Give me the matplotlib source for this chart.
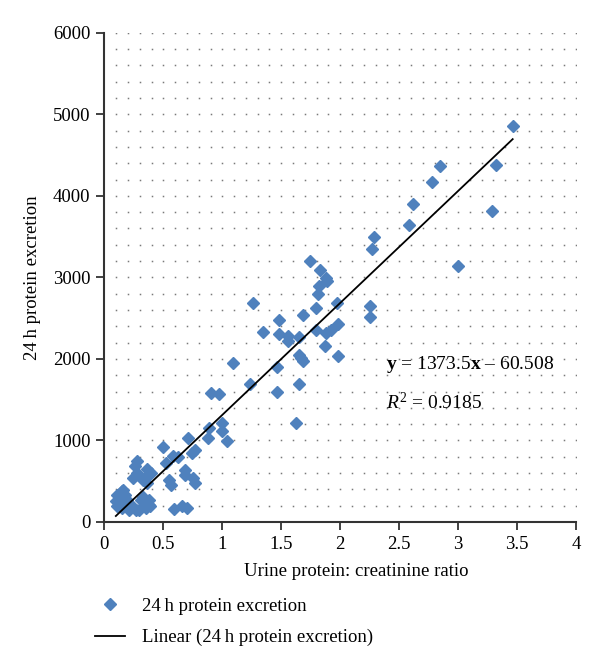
import numpy as np
import matplotlib
matplotlib.use("Agg")
import matplotlib.pyplot as plt

plt.rcParams['font.family'] = ['Liberation Serif', 'DejaVu Serif']
plt.rcParams['mathtext.fontset'] = 'custom'
plt.rcParams['mathtext.rm'] = 'Liberation Serif'
plt.rcParams['mathtext.it'] = 'Liberation Serif:italic'
plt.rcParams['mathtext.bf'] = 'Liberation Serif:bold'

# Urine protein:creatinine ratio vs 24 h protein excretion
upcr = [0.097, 0.11, 0.11, 0.152, 0.152, 0.173, 0.19, 0.209, 0.237, 0.266,
        0.294, 0.308, 0.33, 0.35, 0.378, 0.378, 0.387, 0.274, 0.257, 0.364,
        0.279, 0.393, 0.359, 0.33, 0.364, 0.24, 0.16, 0.13, 0.2,
        0.5, 0.584, 0.627, 0.522, 0.548, 0.567, 0.59, 0.655, 0.698, 0.683,
        0.683, 0.754, 0.768, 0.711, 0.768, 0.74, 0.889, 0.88, 0.994, 0.994,
        1.042, 0.901, 0.974, 1.087, 1.234, 1.262, 1.341, 1.46, 1.468, 1.482,
        1.482, 1.558, 1.558, 1.629, 1.649, 1.649, 1.671, 1.685, 1.651, 1.685,
        1.742, 1.793, 1.793, 1.81, 1.82, 1.832, 1.883, 1.888, 1.883, 1.925,
        1.875, 1.973, 1.981, 1.981, 2.256, 2.256, 2.27, 2.284, 2.58, 2.62,
        2.78, 2.85, 3.0, 3.285, 3.32, 3.463]
excretion = [253, 335, 191, 376, 172, 335, 274, 151, 191, 151,
             151, 274, 307, 172, 274, 212, 191, 744, 682, 650,
             601, 601, 560, 519, 478, 545, 396, 230, 210,
             920, 805, 797, 724, 519, 458, 160, 191, 172, 642,
             580, 540, 478, 1031, 887, 847, 1153, 1031, 1215, 1112,
             989, 1583, 1571, 1955, 1697, 2687, 2335, 1902, 1595, 2474,
             2310, 2286, 2216, 1215, 2270, 2053, 2012, 1971, 1697, 2544,
             3206, 2626, 2351, 2801, 2899, 3096, 2994, 2961, 2319, 2351,
             2155, 2687, 2433, 2040, 2654, 2510, 3353, 3497, 3644, 3897,
             4167, 4363, 3145, 3820, 4384, 4854]

slope, intercept = 1373.5, -60.508

fig = plt.figure(figsize=(6, 6.7), dpi=100)
ax = fig.add_axes([0.174, 0.221, 0.786, 0.730])

# dotted grid (dots at grid intersections)
gx, gy = np.meshgrid(np.arange(1, 41) / 10, np.arange(200, 6001, 200))
ax.plot(gx.ravel(), gy.ravel(), ls='none', marker='s', ms=1.1,
        mec='none', mfc='#7a7a7a', zorder=1)

ax.plot(upcr, excretion, ls='none', marker='D', ms=6.0, color='#4f81bd',
        mec='#4f81bd', label='24\u2009h protein excretion', zorder=3)
xl = np.array([min(upcr), max(upcr)])
ax.plot(xl, slope * xl + intercept, color='black', lw=1.3,
        label='Linear (24\u2009h protein excretion)', zorder=4)

ax.set_xlim(0, 4)
ax.set_ylim(0, 6000)
ax.set_xticks(np.arange(0, 4.01, 0.5))
ax.set_xticklabels(['0', '0.5', '1', '1.5', '2', '2.5', '3', '3.5', '4'])
ax.set_yticks(np.arange(0, 6001, 1000))
for s in ['top', 'right']:
    ax.spines[s].set_visible(False)
for s in ['left', 'bottom']:
    ax.spines[s].set_color('#333333')
    ax.spines[s].set_linewidth(1.5)
ax.tick_params(direction='out', length=6, width=1.3, color='#333333',
               labelsize=13.5, pad=4)

ax.set_xlabel('Urine protein: creatinine ratio', fontsize=13.5)
ax.xaxis.set_label_coords(0.535, -0.083)
ax.set_ylabel('24\u2009h protein excretion', fontsize=13.5)
ax.yaxis.set_label_coords(-0.135, 0.5)

ax.text(2.385, 1930, '$\\mathbf{y}$ = 1373.5$\\mathbf{x}$ \u2013 60.508',
        fontsize=14, va='center')
ax.text(2.385, 1464, '$R^2$ = 0.9185', fontsize=14, va='center')

fig.legend(loc='upper left', bbox_to_anchor=(0.146, 0.119), frameon=False,
           fontsize=13.5, handlelength=1.6, handletextpad=0.9,
           labelspacing=0.75, borderaxespad=0)

fig.savefig('out.png', dpi=100)
